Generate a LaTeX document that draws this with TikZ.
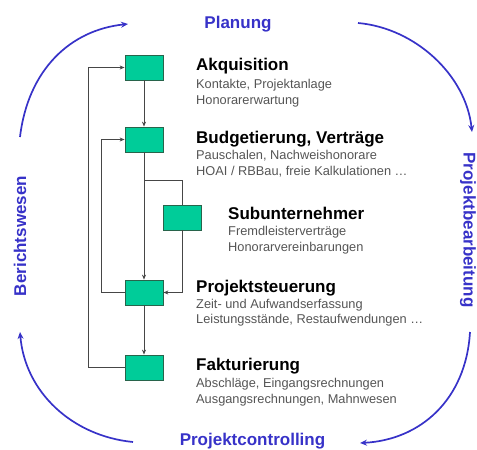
\documentclass[tikz,border=0pt]{standalone}
\usepackage{fontspec}
\setmainfont{Liberation Sans}
\usetikzlibrary{arrows.meta}
\definecolor{boxgreen}{RGB}{0,204,153}
\definecolor{boxedge}{RGB}{40,100,75}
\definecolor{cyclblue}{RGB}{55,50,200}
\definecolor{subgray}{RGB}{85,85,85}
\definecolor{conngray}{RGB}{70,70,70}
\tikzset{
  stepbox/.style={draw=boxedge, fill=boxgreen, line width=0.8pt, minimum width=38pt, minimum height=25pt, inner sep=0pt},
  ttl/.style={anchor=base west, inner sep=0pt, font=\fontsize{17}{20}\selectfont\bfseries, text=black},
  subt/.style={anchor=base west, inner sep=0pt, font=\fontsize{12.8}{15}\selectfont, text=subgray},
  phase/.style={inner sep=0pt, font=\fontsize{17}{20}\selectfont\bfseries, text=cyclblue},
  conn/.style={draw=conngray, line width=0.8pt},
  tipk/.style={-{Stealth[length=5pt,width=4pt]}},
  cyc/.style={draw=cyclblue, line width=1.7pt, -{Stealth[length=7pt,width=6pt]}}
}
\begin{document}
\begin{tikzpicture}[x=1pt,y=-1pt]
\useasboundingbox (0,0) rectangle (477,450);
% boxes
\node[stepbox] (a) at (144,67.5) {};
\node[stepbox] (b) at (144,139.5) {};
\node[stepbox] (s) at (182,217.5) {};
\node[stepbox] (p) at (144,292.5) {};
\node[stepbox] (f) at (144,367.5) {};
% helper coordinates
\coordinate (br) at (144,180);
\coordinate (il) at (101,0);
\coordinate (ol) at (88,0);
% connectors
\draw[conn,tipk] (a.south) -- (b.north);
\draw[conn,tipk] (b.south) -- (p.north);
\draw[conn] (br) -| (s.north);
\draw[conn,tipk] (s.south) |- (p.east);
\draw[conn,tipk] (p.south) -- (f.north);
\draw[conn,tipk] (p.west) -- (p.west -| il) |- (b.west);
\draw[conn,tipk] (f.west) -- (f.west -| ol) |- (a.west);
% texts
\node[ttl] (ta) at (196,70.5) {Akquisition};
\node[subt] (ta1) at (196,88) {Kontakte, Projektanlage};
\node[subt] (ta2) at (196,104) {Honorarerwartung};
\node[ttl] (tb) at (196,143) {Budgetierung, Verträge};
\node[subt] (tb1) at (196,159) {Pauschalen, Nachweishonorare};
\node[subt] (tb2) at (196,175.5) {HOAI / RBBau, freie Kalkulationen \dots};
\node[ttl] (ts) at (228,219) {Subunternehmer};
\node[subt] (ts1) at (228,235) {Fremdleisterverträge};
\node[subt] (ts2) at (228,251) {Honorarvereinbarungen};
\node[ttl] (tp) at (196,292) {Projektsteuerung};
\node[subt] (tp1) at (196,308) {Zeit- und Aufwandserfassung};
\node[subt] (tp2) at (196,323.5) {Leistungsstände, Restaufwendungen \dots};
\node[ttl] (tf) at (196,370) {Fakturierung};
\node[subt] (tf1) at (196,387) {Abschläge, Eingangsrechnungen};
\node[subt] (tf2) at (196,403) {Ausgangsrechnungen, Mahnwesen};
% phase labels
\node[phase, anchor=base] (pl) at (238,28) {Planung};
\node[phase, anchor=base] (pc) at (252.5,445) {Projektcontrolling};
\node[phase, rotate=90] (bw) at (20,236) {Berichtswesen};
\node[phase, rotate=-90] (pb) at (468,230) {Projektbearbeitung};
% cycle arcs
\coordinate (c1s) at (20,137); \coordinate (c1e) at (128,24);
\coordinate (c2s) at (358,23); \coordinate (c2e) at (472,132);
\coordinate (c3s) at (470,332); \coordinate (c3e) at (360,443);
\coordinate (c4s) at (133,442); \coordinate (c4e) at (20,332);
\draw[cyc] (c1s) .. controls (28,70) and (70,30) .. (c1e);
\draw[cyc] (c2s) .. controls (415,28) and (466,75) .. (c2e);
\draw[cyc] (c3s) .. controls (466,400) and (420,440) .. (c3e);
\draw[cyc] (c4s) .. controls (72,436) and (25,392) .. (c4e);
\end{tikzpicture}
\end{document}
